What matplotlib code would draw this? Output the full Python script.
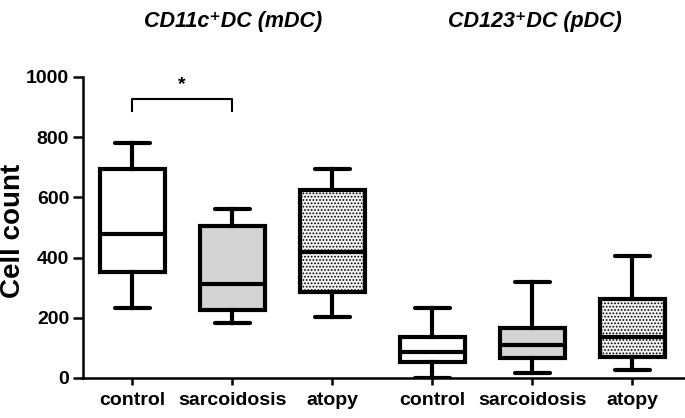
import matplotlib.pyplot as plt
import numpy as np

plt.rcParams['font.family'] = ['Liberation Sans', 'DejaVu Sans']
plt.rcParams['hatch.color'] = '#555555'
plt.rcParams['hatch.linewidth'] = 0.8

# box plot summary values
groups = ['control', 'sarcoidosis', 'atopy', 'control', 'sarcoidosis', 'atopy']
whislo = [234, 184, 202, 0, 16, 27]
q1 = [351, 226, 285, 54, 67, 71]
med = [480, 313, 420, 85, 110, 135]
q3 = [696, 505, 625, 135, 165, 262]
whishi = [780, 562, 694, 231, 318, 406]
fills = ['white', '#d4d4d4', '#f2f2f2', 'white', '#d4d4d4', '#f2f2f2']
hatches = [None, None, '.....', None, None, '.....']

titles = ['CD11c\u207aDC (mDC)', 'CD123\u207aDC (pDC)']

stats = []
for i in range(len(groups)):
    stats.append(dict(label=groups[i], whislo=whislo[i], q1=q1[i], med=med[i],
                      q3=q3[i], whishi=whishi[i], fliers=[]))

fig = plt.figure(figsize=(6.85, 4.18), dpi=100)
ax = fig.add_axes([0.1212, 0.0957, 0.8788, 0.7201])

pos = np.arange(len(groups))
lw = 3
bp = ax.bxp(stats, positions=pos, widths=0.65, patch_artist=True,
            showfliers=False,
            boxprops=dict(linewidth=lw, edgecolor='black'),
            medianprops=dict(linewidth=lw, color='black'),
            whiskerprops=dict(linewidth=lw, color='black'),
            capprops=dict(linewidth=lw, color='black', solid_capstyle='round'),
            capwidths=0.35)
for patch, fc, h in zip(bp['boxes'], fills, hatches):
    patch.set_facecolor(fc)
    if h:
        patch.set_hatch(h)

ax.set_xlim(-0.49, 5.53)
ax.set_ylim(0, 1000)
ax.set_yticks([0, 200, 400, 600, 800, 1000])
ax.set_xticks(pos)
ax.set_xticklabels(groups, fontsize=14, fontweight='bold')
for lab in ax.get_yticklabels():
    lab.set_fontsize(14)
    lab.set_fontweight('bold')
ax.set_ylabel('Cell count', fontsize=20, fontweight='bold')
ax.yaxis.set_label_coords(-0.094, 0.49)

for s in ['top', 'right']:
    ax.spines[s].set_visible(False)
for s in ['left', 'bottom']:
    ax.spines[s].set_linewidth(1.8)
ax.tick_params(axis='y', length=7, width=1.8, pad=3)
ax.tick_params(axis='x', length=5, width=1.8, pad=5)

# significance bracket
ax.plot([0, 0, 1, 1], [887, 926, 926, 887], color='black', lw=1.5, clip_on=False)
ax.text(0.5, 975, '*', ha='center', va='center', fontsize=14, fontweight='bold')

fig.text(233 / 685, 1 - 22 / 418, titles[0], ha='center', va='center',
         fontsize=15.5, fontweight='bold', style='italic')
fig.text(535 / 685, 1 - 22 / 418, titles[1], ha='center', va='center',
         fontsize=15.5, fontweight='bold', style='italic')

fig.savefig('out.png', dpi=100)
